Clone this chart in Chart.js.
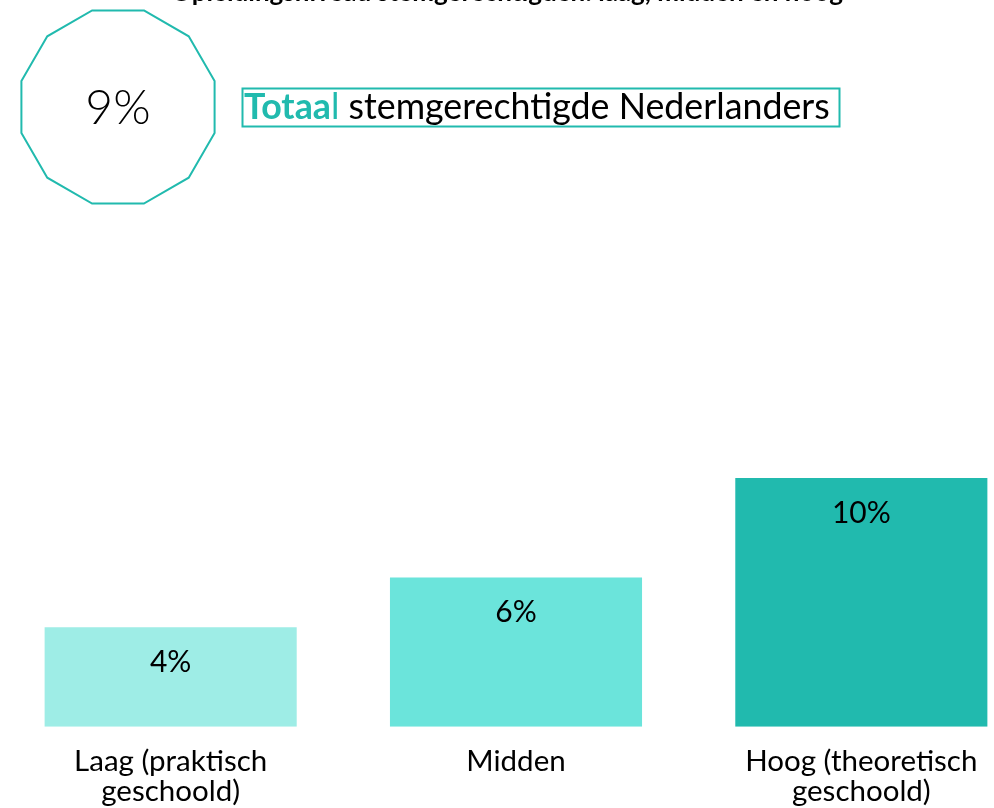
<!DOCTYPE html>
<html><head><meta charset="utf-8">
<script src="https://cdn.jsdelivr.net/npm/chart.js@4"></script>
<style>
html,body{margin:0;padding:0;overflow:hidden;background:#fff;width:994px;height:808px}
#wrap{position:absolute;left:-2px;top:0;width:1036px;height:827px}
</style>
</head><body>
<div id="wrap"><canvas id="c" width="1036" height="827"></canvas></div>
<script>
// ---- data ----
// NOTE: the title is clipped off the top edge in the reference (only the bottom ~3px of
// the glyphs are visible), so its wording could not be read; this text is a placeholder guess.
const titleText = "Opleidingsniveau stemgerechtigden: laag, midden en hoog";
const totalValue = 9;
const totalLabelBold = "Totaa";
const totalLabelThin = "l";
const totalLabelRest = " stemgerechtigde Nederlanders";
const categories = [["Laag (praktisch", "geschoold)"], ["Midden"], ["Hoog (theoretisch", "geschoold)"]];
const values = [4, 6, 10];
const barColors = ["#9EEDE6", "#6BE4DB", "#21BAAE"];

const TEAL = "#21BAAE";
const FONT = "Lato, 'Open Sans', sans-serif";
const OFFSET = 2; // canvas is shifted 2px left of the page

const headerPlugin = {
  id: 'header',
  afterDraw(chart) {
    const ctx = chart.ctx;
    ctx.save();
    ctx.translate(OFFSET, 0);
    // clipped title
    ctx.fillStyle = "#000";
    ctx.font = "bold 26px " + FONT;
    ctx.textAlign = "center";
    ctx.textBaseline = "alphabetic";
    ctx.fillText(titleText, 507, 1);

    // dodecagon
    const cx = 118, cy = 107, R = 100;
    ctx.beginPath();
    for (let k = 0; k < 12; k++) {
      const a = (15 + 30 * k) * Math.PI / 180;
      const x = cx + R * Math.sin(a), y = cy - R * Math.cos(a);
      if (k === 0) ctx.moveTo(x, y); else ctx.lineTo(x, y);
    }
    ctx.closePath();
    ctx.strokeStyle = TEAL;
    ctx.lineWidth = 2;
    ctx.stroke();

    ctx.fillStyle = "#000";
    ctx.font = "300 48px " + FONT;
    ctx.textAlign = "center";
    ctx.textBaseline = "middle";
    ctx.fillText(totalValue + "%", cx, cy + 2);

    // box
    ctx.strokeStyle = TEAL;
    ctx.lineWidth = 2;
    ctx.strokeRect(242.5, 88.5, 597, 38);

    const targetW = 586;
    let size = 30;
    const measure = (s) => {
      ctx.font = "bold " + s + "px " + FONT; let w = ctx.measureText(totalLabelBold).width;
      ctx.font = s + "px " + FONT; w += ctx.measureText(totalLabelThin + totalLabelRest).width;
      return w;
    };
    size = size * targetW / measure(size);
    ctx.textAlign = "left";
    ctx.textBaseline = "alphabetic";
    let x = 244;
    const by = 119;
    ctx.font = "bold " + size + "px " + FONT;
    ctx.fillStyle = TEAL;
    ctx.fillText(totalLabelBold, x, by);
    x += ctx.measureText(totalLabelBold).width;
    ctx.font = size + "px " + FONT;
    ctx.fillText(totalLabelThin, x, by);
    x += ctx.measureText(totalLabelThin).width;
    ctx.fillStyle = "#000";
    ctx.fillText(totalLabelRest, x, by);
    ctx.restore();

    // value labels on bars
    const meta = chart.getDatasetMeta(0);
    ctx.save();
    ctx.fillStyle = "#000";
    ctx.font = "30px " + FONT;
    ctx.textAlign = "center";
    ctx.textBaseline = "middle";
    meta.data.forEach((el, i) => {
      ctx.fillText(values[i] + "%", el.x, el.y + 35);
    });
    ctx.restore();
  }
};

new Chart(document.getElementById('c'), {
  type: 'bar',
  data: {
    labels: categories,
    datasets: [{
      data: values,
      backgroundColor: barColors,
      borderWidth: 0,
      categoryPercentage: 1,
      barPercentage: 0.73
    }]
  },
  options: {
    responsive: false,
    animation: false,
    layout: { padding: { top: 478, left: 0, right: 0, bottom: 0 } },
    plugins: { legend: { display: false }, tooltip: { enabled: false }, title: { display: false } },
    scales: {
      x: {
        grid: { display: false, drawTicks: false },
        border: { display: false },
        ticks: { color: "#000", font: { family: FONT, size: 29.5, lineHeight: 1.02 }, padding: 20, maxRotation: 0, autoSkip: false }
      },
      y: { display: false, min: 0, max: 10 }
    }
  },
  plugins: [headerPlugin]
});
</script>
</body></html>
